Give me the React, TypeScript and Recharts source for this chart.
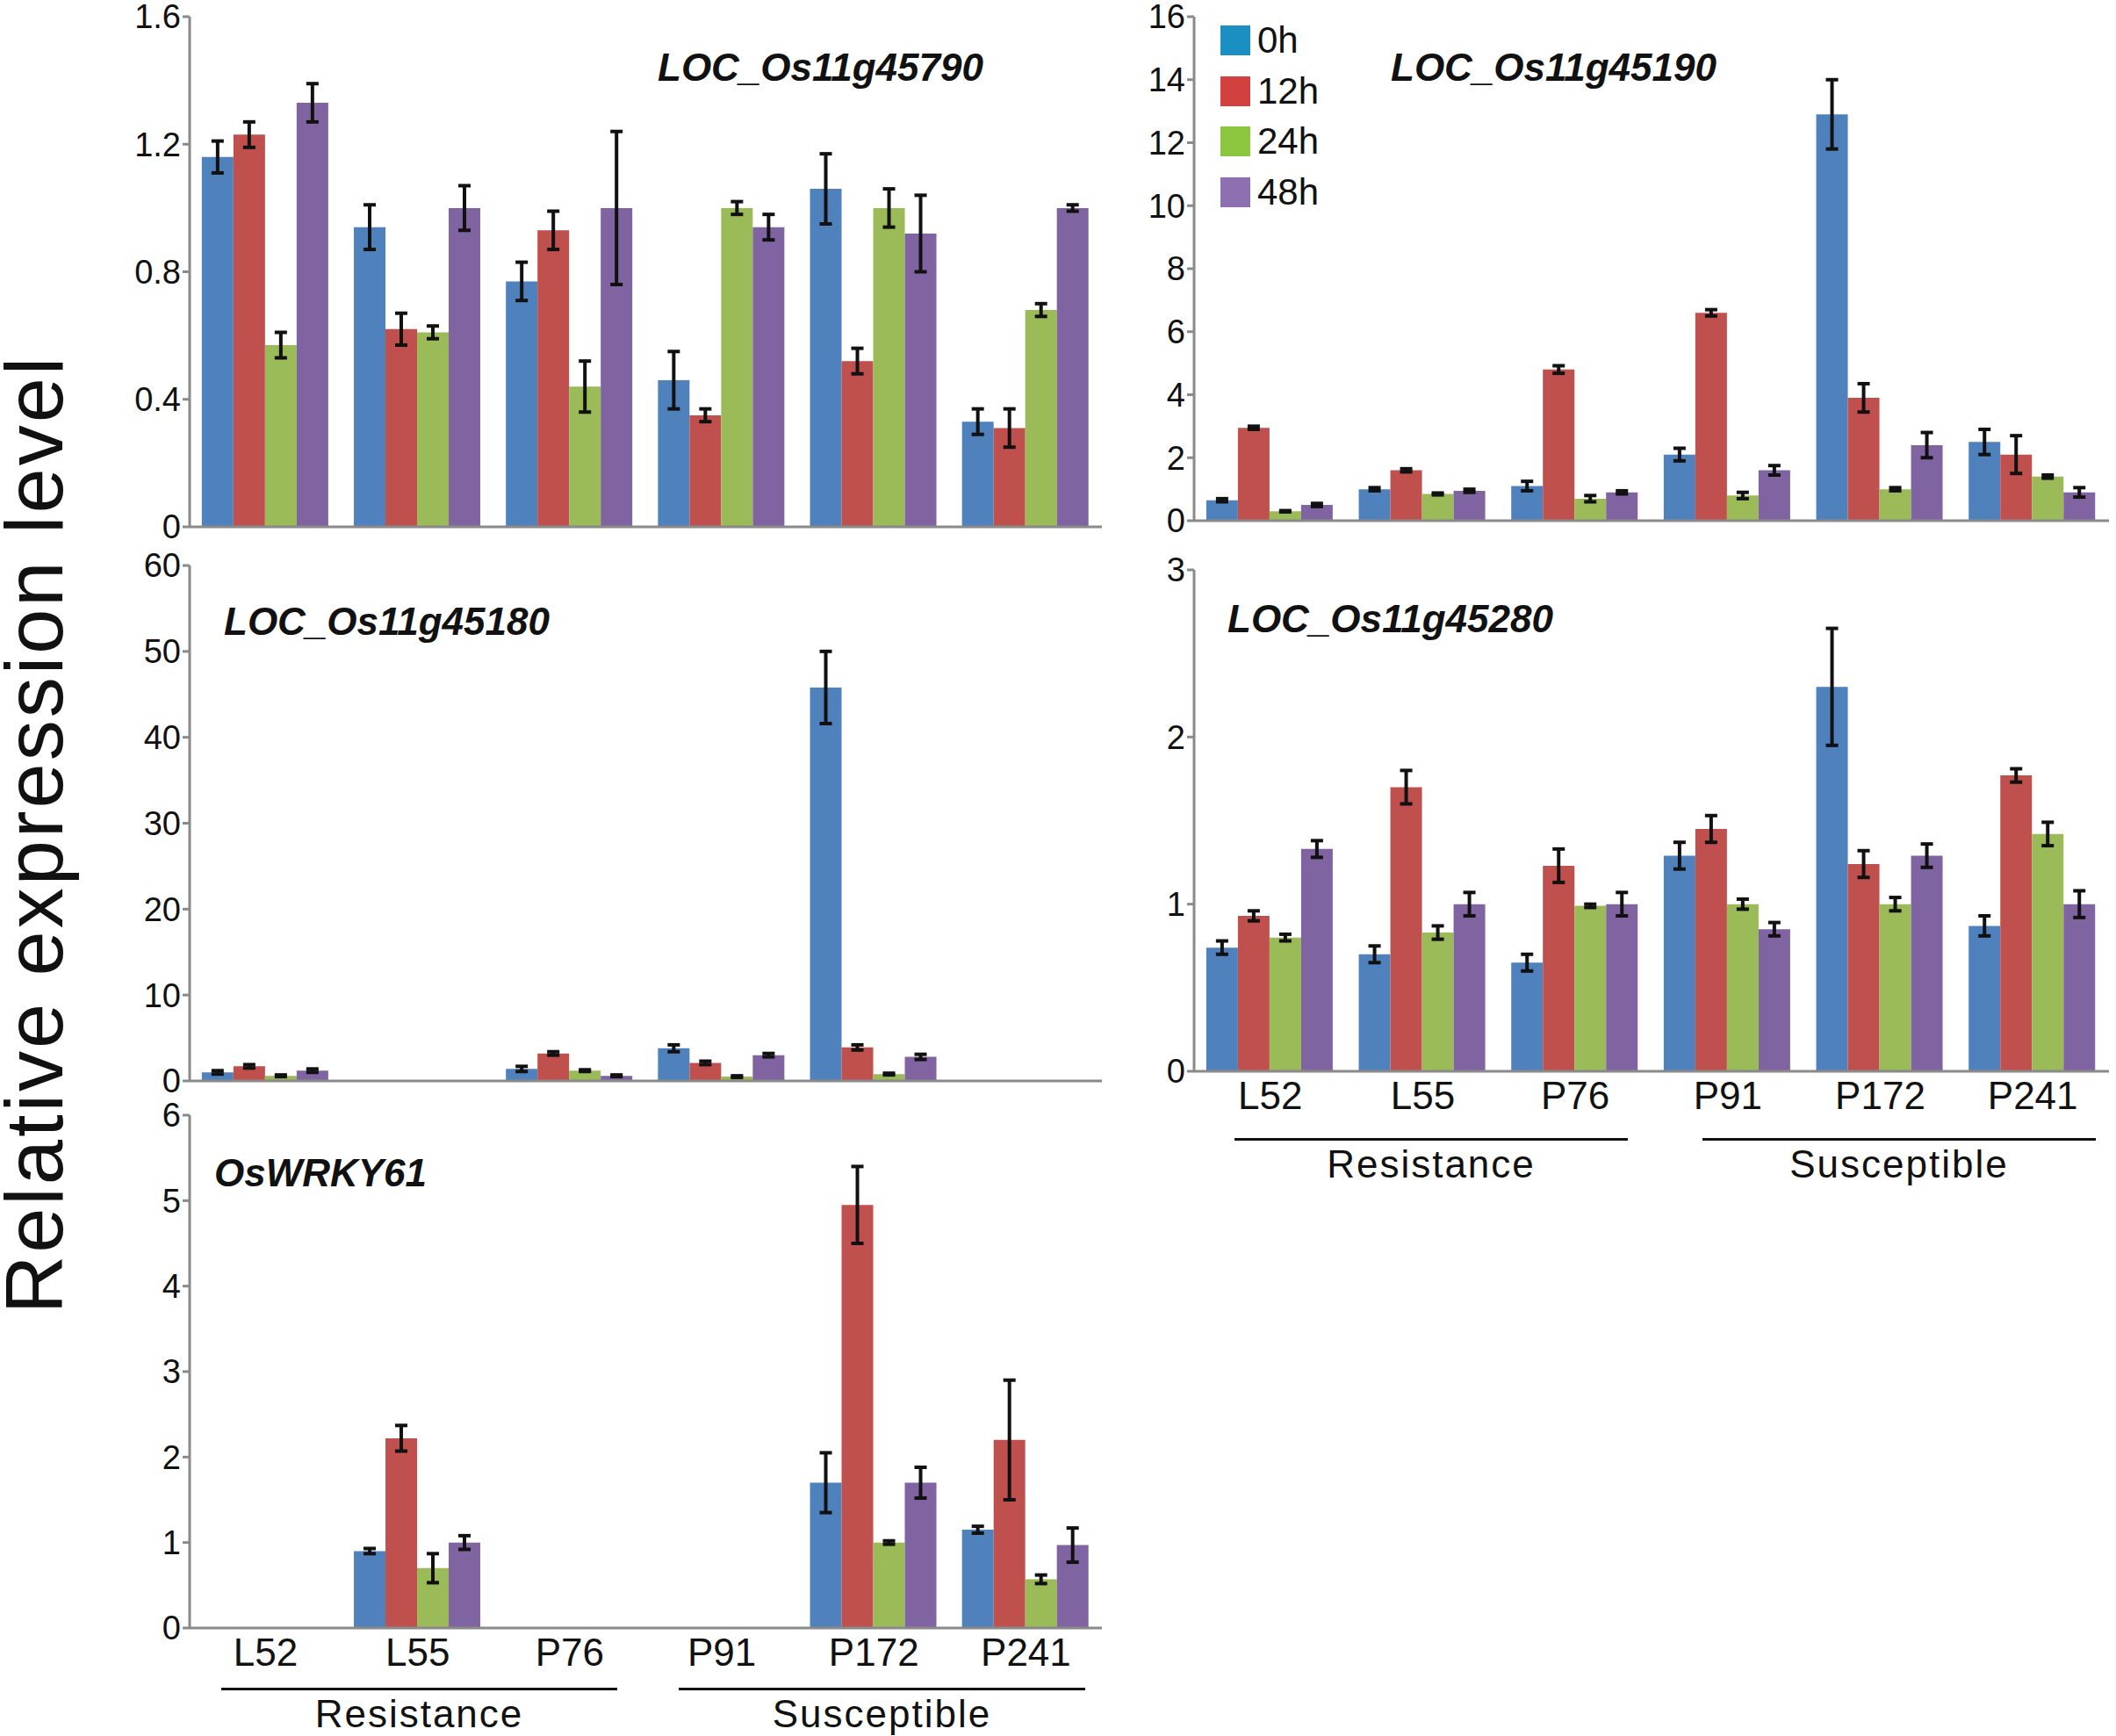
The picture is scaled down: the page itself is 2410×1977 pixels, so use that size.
import React from "react";
import { BarChart, Bar, XAxis, YAxis, ErrorBar } from "recharts";

const categories = ["L52", "L55", "P76", "P91", "P172", "P241"];
const seriesNames = ["0h", "12h", "24h", "48h"];
const colors = ["#4f81bd", "#c0504d", "#9bbb59", "#8064a2"];
const legendColors = ["#1b8ec2", "#d2403f", "#8cc63e", "#8e6fb0"];

// values per category: [0h,12h,24h,48h]
const g45790 = [[1.16,1.23,0.57,1.33],[0.94,0.62,0.61,1.0],[0.77,0.93,0.44,1.0],[0.46,0.35,1.0,0.94],[1.06,0.52,1.0,0.92],[0.33,0.31,0.68,1.0]];
const g45790Err = [[0.05,0.04,0.04,0.06],[0.07,0.05,0.02,0.07],[0.06,0.06,0.08,0.24],[0.09,0.02,0.02,0.04],[0.11,0.04,0.06,0.12],[0.04,0.06,0.02,0.01]];
const g45190 = [[0.65,2.95,0.3,0.5],[1.0,1.6,0.85,0.95],[1.1,4.8,0.7,0.9],[2.1,6.6,0.8,1.6],[12.9,3.9,1.0,2.4],[2.5,2.1,1.4,0.9]];
const g45190Err = [[0.05,0.05,0.02,0.05],[0.05,0.05,0.03,0.05],[0.15,0.12,0.1,0.05],[0.2,0.1,0.1,0.15],[1.1,0.45,0.05,0.4],[0.4,0.6,0.05,0.15]];
const g45180 = [[1.0,1.7,0.6,1.2],[null,null,null,null],[1.4,3.2,1.2,0.6],[3.8,2.1,0.5,3.0],[45.8,3.9,0.8,2.8],[null,null,null,null]];
const g45180Err = [[0.2,0.2,0.1,0.2],[null,null,null,null],[0.3,0.2,0.1,0.1],[0.4,0.2,0.1,0.2],[4.2,0.3,0.1,0.3],[null,null,null,null]];
const g45280 = [[0.74,0.93,0.8,1.33],[0.7,1.7,0.83,1.0],[0.65,1.23,0.99,1.0],[1.29,1.45,1.0,0.85],[2.3,1.24,1.0,1.29],[0.87,1.77,1.42,1.0]];
const g45280Err = [[0.04,0.03,0.02,0.05],[0.05,0.1,0.04,0.07],[0.05,0.1,0.01,0.07],[0.08,0.08,0.03,0.04],[0.35,0.08,0.04,0.07],[0.06,0.04,0.07,0.08]];
const wrky61 = [[null,null,null,null],[0.9,2.22,0.7,1.0],[null,null,null,null],[null,null,null,null],[1.7,4.95,1.0,1.7],[1.15,2.2,0.57,0.97]];
const wrky61Err = [[null,null,null,null],[0.03,0.15,0.17,0.08],[null,null,null,null],[null,null,null,null],[0.35,0.45,0.02,0.18],[0.04,0.7,0.05,0.2]];

const build = (vals: any[][], errs: any[][]) =>
  categories.map((c, i) => {
    const row: any = { cat: c };
    for (let k = 0; k < 4; k++) {
      row["v" + k] = vals[i][k];
      row["e" + k] = errs[i][k];
    }
    return row;
  });

const FONT = "Arial, 'Liberation Sans', sans-serif";
const AX = "#8a8a8a";

function Panel({ data, domain, ticks, axisX, plotTop, plotH, right, showX }: any) {
  const yw = 110;
  const mt = 25;
  const xh = showX ? 70 : 30;
  return (
    <div style={{ position: "absolute", left: axisX - yw, top: plotTop - mt }}>
      <BarChart
        width={right - axisX + yw + 5}
        height={mt + plotH + xh}
        data={data}
        margin={{ top: mt, right: 5, bottom: 0, left: 0 }}
        barCategoryGap="8%"
        barGap={0}
      >
        <XAxis
          dataKey="cat"
          height={xh}
          axisLine={{ stroke: AX, strokeWidth: 3 }}
          tickLine={false}
          tick={showX ? { fill: "#111", fontSize: 44, fontFamily: FONT } : false}
          tickMargin={6}
          interval={0}
        />
        <YAxis
          width={yw}
          domain={domain}
          ticks={ticks}
          allowDataOverflow
          axisLine={{ stroke: AX, strokeWidth: 3 }}
          tickLine={{ stroke: AX, strokeWidth: 3 }}
          tickSize={8}
          tick={{ fill: "#111", fontSize: 38, fontFamily: FONT }}
          interval={0}
        />
        {[0, 1, 2, 3].map((k) => (
          <Bar key={k} dataKey={"v" + k} fill={colors[k]} isAnimationActive={false}>
            <ErrorBar dataKey={"e" + k} width={7} stroke="#111" strokeWidth={4} />
          </Bar>
        ))}
      </BarChart>
    </div>
  );
}

const Title = ({ x, y, text }: any) => (
  <div style={{ position: "absolute", left: x, top: y - 26, fontFamily: FONT, fontSize: 44, lineHeight: "52px", fontWeight: "bold", fontStyle: "italic", color: "#111", whiteSpace: "nowrap" }}>{text}</div>
);
const Group = ({ x1, x2, y, text }: any) => (
  <>
    <div style={{ position: "absolute", left: x1, top: y, width: x2 - x1, height: 3, background: "#111" }} />
    <div style={{ position: "absolute", left: x1, width: x2 - x1, top: y + 6, lineHeight: "48px", textAlign: "center", fontFamily: FONT, fontSize: 44, color: "#111", letterSpacing: 2 }}>{text}</div>
  </>
);

export default function App() {
  return (
    <div style={{ position: "absolute", left: 0, top: 0, width: 2410, height: 1977, background: "#fff", overflow: "hidden" }}>
      <Panel data={build(g45790, g45790Err)} domain={[0, 1.6]} ticks={[0, 0.4, 0.8, 1.2, 1.6]} axisX={216} plotTop={19} plotH={581} right={1255} />
      <Panel data={build(g45190, g45190Err)} domain={[0, 16]} ticks={[0, 2, 4, 6, 8, 10, 12, 14, 16]} axisX={1360} plotTop={19} plotH={574} right={2402} />
      <Panel data={build(g45180, g45180Err)} domain={[0, 60]} ticks={[0, 10, 20, 30, 40, 50, 60]} axisX={216} plotTop={644} plotH={587} right={1255} />
      <Panel data={build(g45280, g45280Err)} domain={[0, 3]} ticks={[0, 1, 2, 3]} axisX={1360} plotTop={649} plotH={571} right={2402} showX />
      <Panel data={build(wrky61, wrky61Err)} domain={[0, 6]} ticks={[0, 1, 2, 3, 4, 5, 6]} axisX={216} plotTop={1270} plotH={584} right={1255} showX />

      <Title x={749} y={77} text="LOC_Os11g45790" />
      <Title x={1584} y={77} text="LOC_Os11g45190" />
      <Title x={255} y={708} text="LOC_Os11g45180" />
      <Title x={1398} y={705} text="LOC_Os11g45280" />
      <Title x={244} y={1336} text="OsWRKY61" />

      {seriesNames.map((s, i) => (
        <div key={s} style={{ position: "absolute", left: 1390, top: 46 + i * 57.5 - 24, display: "flex", alignItems: "center", fontFamily: FONT, fontSize: 42, lineHeight: "48px", color: "#111" }}>
          <div style={{ width: 34, height: 34, background: legendColors[i], marginRight: 8 }} />
          {s}
        </div>
      ))}

      <Group x1={1406} x2={1854} y={1296} text="Resistance" />
      <Group x1={1939} x2={2387} y={1296} text="Susceptible" />
      <Group x1={252} x2={703} y={1922} text="Resistance" />
      <Group x1={773} x2={1236} y={1922} text="Susceptible" />

      <div style={{ position: "absolute", left: 39, top: 950, transform: "translate(-50%, -50%) rotate(-90deg)", fontFamily: FONT, fontSize: 92, color: "#111", whiteSpace: "nowrap", letterSpacing: 3 }}>
        Relative expression level
      </div>
    </div>
  );
}
